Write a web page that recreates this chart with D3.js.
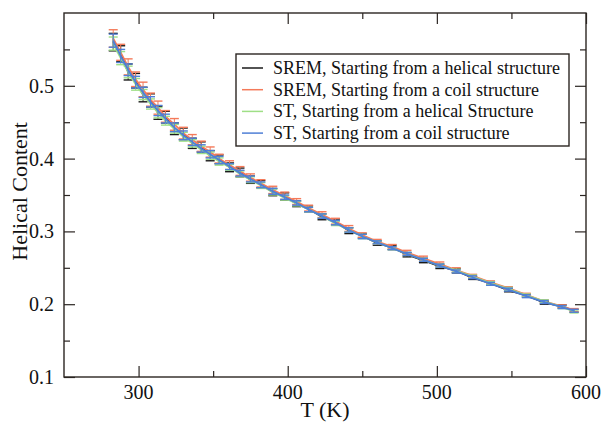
<!DOCTYPE html>
<html lang="en">
<head>
<meta charset="utf-8">
<title>Helical Content vs T</title>
<script src="https://d3js.org/d3.v7.min.js"></script>
<style>
  body { margin: 0; background: #fff; }
</style>
</head>
<body>
<div id="my_dataviz"></div>
<script>
// temperatures (K)
const temps = [283,288,293,298,303,308,313,318,324,330,336,342,348,354,361,368,375,382,390,398,406,414,423,432,441,450,460,470,480,491,502,513,524,536,548,560,572,584,592];

// helical content, one array per run
const sremHelix = [0.560,0.544,0.519,0.507,0.488,0.480,0.463,0.457,0.441,0.434,0.421,0.416,0.404,0.399,0.388,0.381,0.371,0.365,0.354,0.348,0.338,0.331,0.320,0.313,0.301,0.294,0.284,0.278,0.268,0.260,0.252,0.246,0.236,0.229,0.219,0.212,0.202,0.197,0.191];
const sremCoil  = [0.565,0.546,0.526,0.509,0.495,0.481,0.470,0.458,0.447,0.435,0.426,0.417,0.409,0.400,0.391,0.383,0.374,0.366,0.357,0.349,0.341,0.332,0.323,0.314,0.304,0.295,0.286,0.279,0.271,0.263,0.255,0.247,0.239,0.230,0.222,0.213,0.204,0.197,0.192];
const stHelix   = [0.558,0.538,0.519,0.502,0.488,0.475,0.463,0.452,0.441,0.430,0.421,0.412,0.404,0.396,0.388,0.379,0.371,0.363,0.354,0.346,0.338,0.330,0.321,0.311,0.302,0.293,0.285,0.277,0.269,0.261,0.253,0.246,0.238,0.229,0.221,0.212,0.204,0.196,0.190];
const stCoil    = [0.562,0.541,0.522,0.505,0.491,0.478,0.466,0.455,0.443,0.432,0.423,0.414,0.406,0.398,0.389,0.380,0.372,0.364,0.355,0.347,0.339,0.330,0.321,0.312,0.302,0.293,0.285,0.277,0.269,0.261,0.253,0.245,0.237,0.228,0.220,0.211,0.203,0.196,0.191];

// error bars
const sremErr = [0.012,0.011,0.011,0.010,0.010,0.009,0.009,0.008,0.008,0.008,0.007,0.007,0.007,0.006,0.006,0.006,0.005,0.005,0.005,0.005,0.004,0.004,0.004,0.004,0.004,0.003,0.003,0.003,0.003,0.003,0.003,0.003,0.002,0.002,0.002,0.002,0.002,0.002,0.002];
const stErr   = [0.009,0.009,0.008,0.008,0.007,0.007,0.007,0.006,0.006,0.006,0.005,0.005,0.005,0.005,0.004,0.004,0.004,0.004,0.004,0.003,0.003,0.003,0.003,0.003,0.003,0.003,0.002,0.002,0.002,0.002,0.002,0.002,0.002,0.002,0.002,0.002,0.002,0.002,0.002];

const seriesNames = ["SREM, Starting from a helical structure", "SREM, Starting from a coil structure", "ST, Starting from a helical Structure", "ST, Starting from a coil structure"];
const seriesColors = ["#1a1a1a", "#f47a5a", "#9fdf86", "#4f7fd6"];

const xTicks = [300, 400, 500, 600];
const yTicks = [0.1, 0.2, 0.3, 0.4, 0.5];
const xMinor = [350, 450, 550];
const yMinor = [0.15, 0.25, 0.35, 0.45, 0.55];

const margin = {top: 13, right: 17, bottom: 45, left: 64},
    width = 603 - margin.left - margin.right,
    height = 422 - margin.top - margin.bottom;

const svg = d3.select("#my_dataviz")
  .append("svg")
    .attr("width", 603)
    .attr("height", 422)
    .attr("font-family", "'Liberation Serif', 'Times New Roman', 'DejaVu Serif', serif")
  .append("g")
    .attr("transform", `translate(${margin.left},${margin.top})`);

const x = d3.scaleLinear().domain([250, 600]).range([0, width]);
const y = d3.scaleLinear().domain([0.1, 0.6]).range([height, 0]);

// axes, ticks inward on all four sides
const axisCol = "#2b2522";
const major = 11, minor = 6;
function tickAxis(axis, ticks, size, transform) {
  svg.append("g")
    .attr("transform", transform)
    .call(axis.tickValues(ticks).tickSize(size).tickFormat(""))
    .call(g => g.select(".domain").remove())
    .call(g => g.selectAll("line").attr("stroke", axisCol).attr("stroke-width", 1.2));
}
tickAxis(d3.axisTop(x), xTicks, major, `translate(0,${height})`);
tickAxis(d3.axisTop(x), xMinor, minor, `translate(0,${height})`);
tickAxis(d3.axisBottom(x), xTicks, major, "translate(0,0)");
tickAxis(d3.axisBottom(x), xMinor, minor, "translate(0,0)");
tickAxis(d3.axisRight(y), yTicks, major, "translate(0,0)");
tickAxis(d3.axisRight(y), yMinor, minor, "translate(0,0)");
tickAxis(d3.axisLeft(y), yTicks, major, `translate(${width},0)`);
tickAxis(d3.axisLeft(y), yMinor, minor, `translate(${width},0)`);

svg.append("rect")
  .attr("width", width).attr("height", height)
  .attr("fill", "none").attr("stroke", axisCol).attr("stroke-width", 1.4);

// tick labels
svg.selectAll(".xlab")
  .data(xTicks)
  .join("text")
    .attr("x", d => x(d))
    .attr("y", height + 22)
    .attr("text-anchor", "middle")
    .attr("fill", "#111")
    .style("font-size", "20px")
    .text(d => d);

svg.selectAll(".ylab")
  .data(yTicks)
  .join("text")
    .attr("x", -10)
    .attr("y", d => y(d) + 7)
    .attr("text-anchor", "end")
    .attr("fill", "#111")
    .style("font-size", "20px")
    .text(d => d3.format(".1f")(d));

// axis titles
svg.append("text")
  .attr("x", x(425))
  .attr("y", height + 40)
  .attr("text-anchor", "middle")
  .attr("fill", "#111")
  .style("font-size", "22px")
  .text("T (K)");

svg.append("text")
  .attr("transform", `translate(${-37},${y(0.355)}) rotate(-90)`)
  .attr("text-anchor", "middle")
  .attr("fill", "#111")
  .style("font-size", "22px")
  .text("Helical Content");

// data
const allSeries = [
  {vals: sremHelix, err: sremErr},
  {vals: sremCoil, err: sremErr},
  {vals: stHelix, err: stErr},
  {vals: stCoil, err: stErr}
];

const line = d3.line()
  .x(d => x(d.t))
  .y(d => y(d.v));

const cap = 4.5;
allSeries.forEach((s, k) => {
  const pts = temps.map((t, i) => ({t: t, v: s.vals[i], e: s.err[i]}));
  const g = svg.append("g").attr("stroke", seriesColors[k]);

  g.selectAll("line.bar")
    .data(pts)
    .join("line")
      .attr("x1", d => x(d.t)).attr("x2", d => x(d.t))
      .attr("y1", d => y(d.v - d.e)).attr("y2", d => y(d.v + d.e))
      .attr("stroke-width", 1);
  g.selectAll("line.top")
    .data(pts)
    .join("line")
      .attr("x1", d => x(d.t) - cap).attr("x2", d => x(d.t) + cap)
      .attr("y1", d => y(d.v + d.e)).attr("y2", d => y(d.v + d.e))
      .attr("stroke-width", 1.4);
  g.selectAll("line.bot")
    .data(pts)
    .join("line")
      .attr("x1", d => x(d.t) - cap).attr("x2", d => x(d.t) + cap)
      .attr("y1", d => y(d.v - d.e)).attr("y2", d => y(d.v - d.e))
      .attr("stroke-width", 1.4);

  g.append("path")
    .datum(pts)
    .attr("fill", "none")
    .attr("stroke-width", 1.8)
    .attr("d", line);
});

// legend
const lg = svg.append("g").attr("transform", `translate(${236 - margin.left},${54 - margin.top})`);
lg.append("rect")
  .attr("width", 333).attr("height", 92)
  .attr("fill", "#fff").attr("stroke", axisCol).attr("stroke-width", 1.4);

lg.selectAll("line")
  .data(seriesNames)
  .join("line")
    .attr("x1", 6).attr("x2", 27)
    .attr("y1", (d, i) => 14 + i * 21.7)
    .attr("y2", (d, i) => 14 + i * 21.7)
    .attr("stroke", (d, i) => seriesColors[i])
    .attr("stroke-width", 1.5);

lg.selectAll("text")
  .data(seriesNames)
  .join("text")
    .attr("x", 37)
    .attr("y", (d, i) => 20 + i * 21.7)
    .attr("fill", "#111")
    .style("font-size", "18px")
    .text(d => d);
</script>
</body>
</html>
